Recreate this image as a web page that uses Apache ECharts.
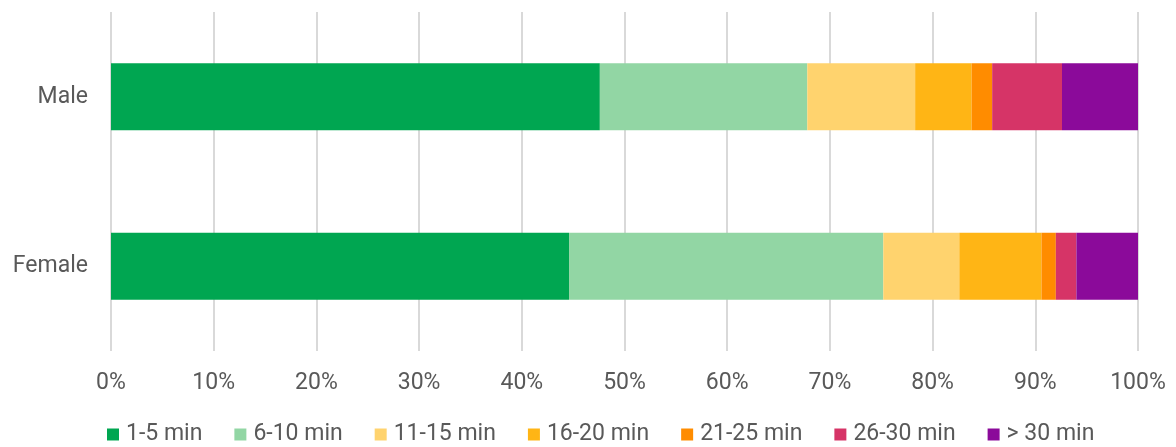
<!DOCTYPE html>
<html><head><meta charset="utf-8">
<script src="https://cdn.jsdelivr.net/npm/echarts@6/dist/echarts.min.js"></script>
<style>html,body{margin:0;padding:0;background:#fff}#c{width:1176px;height:447px}</style>
</head><body><div id="c"></div>
<script>
const categories = ['Male', 'Female'];
const seriesNames = ['1-5 min', '6-10 min', '11-15 min', '16-20 min', '21-25 min', '26-30 min', '> 30 min'];
const s1_5 = [47.6, 44.6];
const s6_10 = [20.2, 30.6];
const s11_15 = [10.5, 7.4];
const s16_20 = [5.5, 8.0];
const s21_25 = [2.0, 1.4];
const s26_30 = [6.8, 2.0];
const s30plus = [7.4, 6.0];
const xTicks = [0, 10, 20, 30, 40, 50, 60, 70, 80, 90, 100];
const colors = ['#00a651', '#92d6a4', '#ffd36e', '#ffb515', '#ff8c00', '#d63467', '#8b0a9a'];
const values = [s1_5, s6_10, s11_15, s16_20, s21_25, s26_30, s30plus];
const font = 'Roboto';
const chart = echarts.init(document.getElementById('c'));
chart.setOption({
  animation: false,
  grid: {left: 111, right: 38, top: 12, bottom: 96, containLabel: false},
  legend: {
    top: 423, left: 107, itemWidth: 12, itemHeight: 12, itemGap: 32,
    icon: 'rect', padding: 0,
    textStyle: {fontFamily: font, fontSize: 23, color: '#595959', padding: [0,0,0,2]},
    data: seriesNames
  },
  xAxis: {
    type: 'value', min: 0, max: 100, interval: 10,
    axisLine: {show: false}, axisTick: {show: false},
    splitLine: {lineStyle: {color: '#d9d9d9', width: 2}},
    axisLabel: {formatter: v => xTicks.includes(v) ? v + '%' : '', fontFamily: font, fontSize: 23, color: '#595959', margin: 21}
  },
  yAxis: {
    type: 'category', data: categories, inverse: true,
    axisLine: {show: false}, axisTick: {show: false},
    axisLabel: {fontFamily: font, fontSize: 23, color: '#595959', margin: 23}
  },
  series: seriesNames.map((n, i) => ({
    name: n, type: 'bar', stack: 'total', data: values[i], barWidth: 67,
    itemStyle: {color: colors[i]}
  }))
});
</script></body></html>
